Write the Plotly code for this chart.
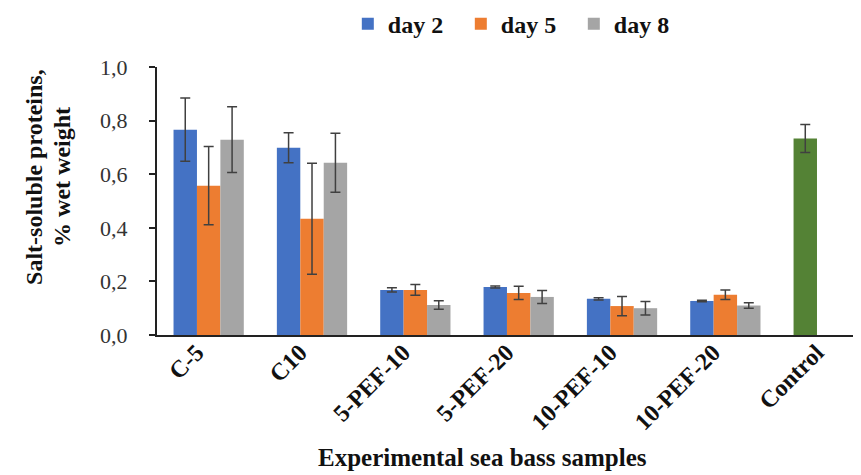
import plotly.graph_objects as go

categories = ["C-5", "C10", "5-PEF-10", "5-PEF-20", "10-PEF-10", "10-PEF-20", "Control"]
day2 = [0.766, 0.699, 0.168, 0.179, 0.135, 0.127, 0.733]
day2_err = [0.118, 0.056, 0.008, 0.004, 0.004, 0.003, 0.052]
day5 = [0.557, 0.434, 0.168, 0.157, 0.108, 0.150, None]
day5_err = [0.146, 0.207, 0.020, 0.025, 0.036, 0.018, None]
day8 = [0.729, 0.643, 0.112, 0.142, 0.100, 0.110, None]
day8_err = [0.123, 0.110, 0.016, 0.024, 0.025, 0.010, None]
y_ticks = [0.0, 0.2, 0.4, 0.6, 0.8, 1.0]
y_title_lines = ["Salt-soluble proteins,", "% wet weight"]
x_title = "Experimental sea bass samples"

blue = "#4472C4"
orange = "#ED7D31"
gray = "#A5A5A5"
green = "#548235"
err_col = "#404040"
font_family = "Liberation Serif"

day2_colors = [blue] * 6 + [green]

fig = go.Figure()
for name, vals, errs, col in [
    ("day 2", day2, day2_err, day2_colors),
    ("day 5", day5, day5_err, orange),
    ("day 8", day8, day8_err, gray),
]:
    fig.add_trace(go.Bar(
        name=name, x=categories, y=vals,
        marker=dict(color=col, line=dict(width=0)),
        error_y=dict(type="data", array=errs, visible=True, color=err_col,
                     thickness=1.5, width=5),
    ))

title_font = dict(size=24, weight="bold", family=font_family, color="#111")

fig.update_layout(
    width=861, height=475,
    margin=dict(l=149, r=0, t=59, b=148),
    paper_bgcolor="white", plot_bgcolor="white",
    barmode="group", bargap=0.32, bargroupgap=0,
    separators=",.",
    font=dict(family=font_family, color="#1a1a1a"),
    showlegend=True,
    legend=dict(orientation="h", x=0.268, xanchor="left", y=0.966, yanchor="middle",
                yref="container", entrywidth=68, entrywidthmode="pixels",
                font=dict(size=24, weight="bold", family=font_family, color="#111"),
                itemsizing="constant", traceorder="normal", itemwidth=30),
    xaxis=dict(
        range=[-0.5, 6.39],
        showline=True, linecolor="#222", linewidth=2,
        ticks="", tickangle=-45,
        tickfont=dict(size=24, weight="bold", family=font_family, color="#111"),
        ticklabelshift=-12, ticklabelstandoff=-8,
        showgrid=False, zeroline=False,
    ),
    yaxis=dict(
        range=[0, 1.0], tickvals=y_ticks, tickformat=".1f",
        showline=True, linecolor="#222", linewidth=2,
        ticks="outside", ticklen=6, tickwidth=1.5, tickcolor="#222",
        tickfont=dict(size=22, family=font_family, color="#333"),
        ticklabelstandoff=17,
        showgrid=False, zeroline=False,
    ),
    annotations=[
        dict(
            text=y_title_lines[0], textangle=-90, showarrow=False,
            xref="paper", yref="paper", x=-0.1727, y=0.59,
            xanchor="center", yanchor="middle", font=title_font,
        ),
        dict(
            text=y_title_lines[1], textangle=-90, showarrow=False,
            xref="paper", yref="paper", x=-0.1334, y=0.59,
            xanchor="center", yanchor="middle", font=title_font,
        ),
        dict(
            text=x_title, showarrow=False,
            xref="paper", yref="paper", x=0.4565, y=-0.458,
            xanchor="center", yanchor="middle",
            font=dict(size=25, weight="bold", family=font_family, color="#111"),
        ),
    ],
)

fig.write_html("out.html")
